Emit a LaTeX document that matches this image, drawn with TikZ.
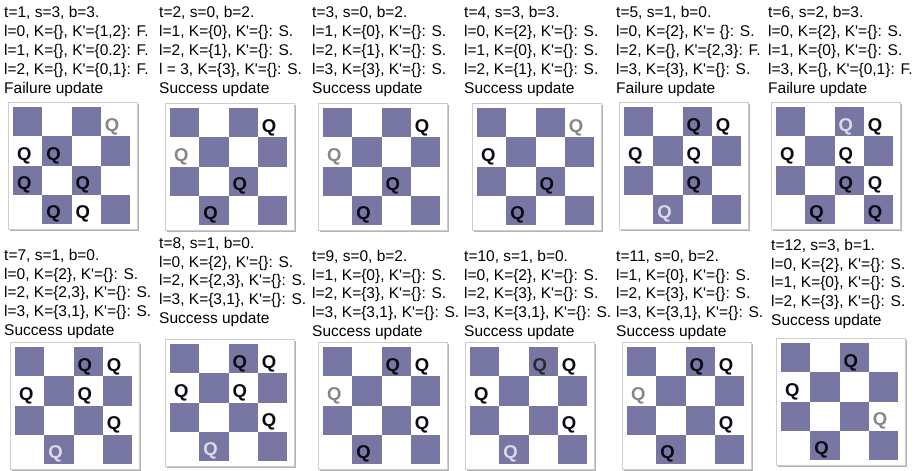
\documentclass[tikz,border=0pt]{standalone}
\usepackage{fontspec}
\setmainfont{Liberation Sans}
\newfontfamily\lsf{Liberation Sans}
\definecolor{sqdark}{RGB}{120,118,162}
\definecolor{framec}{RGB}{205,205,205}
\definecolor{shadc}{RGB}{180,180,180}
\definecolor{qk}{RGB}{10,10,18}
\definecolor{qg}{RGB}{135,135,135}
\definecolor{ql}{RGB}{218,218,232}
\newcommand\cs{29.25}
% panel text: id, x, y (centre of first line), spacing, 5 lines
\newcommand\ptext[9]{%
  \node[lbl] (#1a) at (#2,#3+5.5) {#5};
  \node[lbl] (#1b) at (#2,#3+5.5+#4) {#6};
  \node[lbl] (#1c) at (#2,#3+5.5+2*#4) {#7};
  \node[lbl] (#1d) at (#2,#3+5.5+3*#4) {#8};
  \node[lbl] (#1e) at (#2,#3+5.5+4*#4) {#9};}
% board drawn in a shifted scope: origin = inner top-left
\newcommand\boardbg{%
  \fill[shadc] (-3,-3) rectangle (125.5,123.5);
  \draw[framec,fill=white,line width=0.8pt] (-5,-5) rectangle (124,122);
  \foreach \r/\c in {0/0,0/2,1/1,1/3,2/0,2/2,3/1,3/3}
    \fill[sqdark] (\c*\cs,\r*\cs) rectangle ++(\cs,\cs);}
\newcommand\Q[4]{\node[queen,text=#4] (#1) at (#3*\cs+11.2,#2*\cs+19.5) {Q};}
\begin{document}
\begin{tikzpicture}[x=1pt,y=-1pt,
  lbl/.style={anchor=base west,inner sep=0pt,font=\lsf\fontsize{15.5}{19}\selectfont},
  queen/.style={inner sep=0pt,font=\lsf\fontsize{18.5}{20}\selectfont\bfseries}]
\useasboundingbox (0,0) rectangle (919,471);
\fill[white] (0,0) rectangle (919,471);
% ---------- top row ----------
\ptext{pa}{4}{12}{19}{t=1, s=3, b=3.}{l=0, K=\{\}, K'=\{1,2\}: F.}{l=1, K=\{\}, K'=\{0.2\}: F.}{l=2, K=\{\}, K'=\{0,1\}: F.}{Failure update}
\begin{scope}[shift={(13,107)}]\boardbg
 \Q{pa1}{0}{3}{qg}\Q{pa2}{1}{0}{qk}\Q{pa3}{1}{1}{qk}\Q{pa4}{2}{0}{qk}\Q{pa5}{2}{2}{qk}\Q{pa6}{3}{1}{qk}\Q{pa7}{3}{2}{qk}
\end{scope}
\ptext{pb}{159}{12}{19}{t=2, s=0, b=2.}{l=1, K=\{0\}, K'=\{\}: S.}{l=2, K=\{1\}, K'=\{\}: S.}{l = 3, K=\{3\}, K'=\{\}: S.}{Success update}
\begin{scope}[shift={(170,108)}]\boardbg
 \Q{pb1}{0}{3}{qk}\Q{pb2}{1}{0}{qg}\Q{pb3}{2}{2}{qk}\Q{pb4}{3}{1}{qk}
\end{scope}
\ptext{pc}{312}{12}{19}{t=3, s=0, b=2.}{l=1, K=\{0\}, K'=\{\}: S.}{l=2, K=\{1\}, K'=\{\}: S.}{l=3, K=\{3\}, K'=\{\}: S.}{Success update}
\begin{scope}[shift={(323,108)}]\boardbg
 \Q{pc1}{0}{3}{qk}\Q{pc2}{1}{0}{qg}\Q{pc3}{2}{2}{qk}\Q{pc4}{3}{1}{qk}
\end{scope}
\ptext{pd}{464}{12}{19}{t=4, s=3, b=3.}{l=0, K=\{2\}, K'=\{\}: S.}{l=1, K=\{0\}, K'=\{\}: S.}{l=2, K=\{1\}, K'=\{\}: S.}{Success update}
\begin{scope}[shift={(477,108)}]\boardbg
 \Q{pd1}{0}{3}{qg}\Q{pd2}{1}{0}{qk}\Q{pd3}{2}{2}{qk}\Q{pd4}{3}{1}{qk}
\end{scope}
\ptext{pe}{616}{12}{19}{t=5, s=1, b=0.}{l=0, K=\{2\}, K'= \{\}: S.}{l=2, K=\{\}, K'=\{2,3\}: F.}{l=3, K=\{3\}, K'=\{\}: S.}{Failure update}
\begin{scope}[shift={(624,107)}]\boardbg
 \Q{pe1}{0}{2}{qk}\Q{pe2}{0}{3}{qk}\Q{pe3}{1}{0}{qk}\Q{pe4}{1}{2}{qk}\Q{pe5}{2}{2}{qk}\Q{pe6}{3}{1}{ql}
\end{scope}
\ptext{pf}{768}{12}{19}{t=6, s=2, b=3.}{l=0, K=\{2\}, K'=\{\}: S.}{l=1, K=\{0\}, K'=\{\}: S.}{l=3, K=\{\}, K'=\{0,1\}: F.}{Failure update}
\begin{scope}[shift={(776,107)}]\boardbg
 \Q{pf1}{0}{2}{ql}\Q{pf2}{0}{3}{qk}\Q{pf3}{1}{0}{qk}\Q{pf4}{1}{2}{qk}\Q{pf5}{2}{2}{qk}\Q{pf6}{2}{3}{qk}\Q{pf7}{3}{1}{qk}\Q{pf8}{3}{3}{qk}
\end{scope}
% ---------- bottom row ----------
\ptext{pg}{4}{255}{18.7}{t=7, s=1, b=0.}{l=0, K=\{2\}, K'=\{\}: S.}{l=2, K=\{2,3\}, K'=\{\}: S.}{l=3, K=\{3,1\}, K'=\{\}: S.}{Success update}
\begin{scope}[shift={(15,347)}]\boardbg
 \Q{pg1}{0}{2}{qk}\Q{pg2}{0}{3}{qk}\Q{pg3}{1}{0}{qk}\Q{pg4}{1}{2}{qk}\Q{pg5}{2}{3}{qk}\Q{pg6}{3}{1}{ql}
\end{scope}
\ptext{ph}{159}{243}{18.7}{t=8, s=1, b=0.}{l=0, K=\{2\}, K'=\{\}: S.}{l=2, K=\{2,3\}, K'=\{\}: S.}{l=3, K=\{3,1\}, K'=\{\}: S.}{Success update}
\begin{scope}[shift={(170,344)}]\boardbg
 \Q{ph1}{0}{2}{qk}\Q{ph2}{0}{3}{qk}\Q{ph3}{1}{0}{qk}\Q{ph4}{1}{2}{qk}\Q{ph5}{2}{3}{qk}\Q{ph6}{3}{1}{ql}
\end{scope}
\ptext{pi}{312}{256}{18.7}{t=9, s=0, b=2.}{l=1, K=\{0\}, K'=\{\}: S.}{l=2, K=\{3\}, K'=\{\}: S.}{l=3, K=\{3,1\}, K'=\{\}: S.}{Success update}
\begin{scope}[shift={(323,347)}]\boardbg
 \Q{pi1}{0}{2}{qk}\Q{pi2}{0}{3}{qk}\Q{pi3}{1}{0}{qg}\Q{pi4}{2}{3}{qk}\Q{pi5}{3}{1}{qk}
\end{scope}
\ptext{pj}{464}{256}{18.7}{t=10, s=1, b=0.}{l=0, K=\{2\}, K'=\{\}: S.}{l=2, K=\{3\}, K'=\{\}: S.}{l=3, K=\{3,1\}, K'=\{\}: S.}{Success update}
\begin{scope}[shift={(470,347)}]\boardbg
 \Q{pj1}{0}{2}{qk!85!ql}\Q{pj2}{0}{3}{qk}\Q{pj3}{1}{0}{qk}\Q{pj4}{2}{3}{qk}\Q{pj5}{3}{1}{ql}
\end{scope}
\ptext{pk}{616}{256}{18.7}{t=11, s=0, b=2.}{l=1, K=\{0\}, K'=\{\}: S.}{l=2, K=\{3\}, K'=\{\}: S.}{l=3, K=\{3,1\}, K'=\{\}: S.}{Success update}
\begin{scope}[shift={(627,347)}]\boardbg
 \Q{pk1}{0}{2}{qk}\Q{pk2}{0}{3}{qk}\Q{pk3}{1}{0}{qg}\Q{pk4}{2}{3}{qk}\Q{pk5}{3}{1}{qk}
\end{scope}
\ptext{pl}{771}{245}{18.7}{t=12, s=3, b=1.}{l=0, K=\{2\}, K'=\{\}: S.}{l=1, K=\{0\}, K'=\{\}: S.}{l=2, K=\{3\}, K'=\{\}: S.}{Success update}
\begin{scope}[shift={(781,343)}]\boardbg
 \Q{pl1}{0}{2}{qk}\Q{pl2}{1}{0}{qk}\Q{pl3}{2}{3}{qg}\Q{pl4}{3}{1}{qk}
\end{scope}
\end{tikzpicture}
\end{document}
